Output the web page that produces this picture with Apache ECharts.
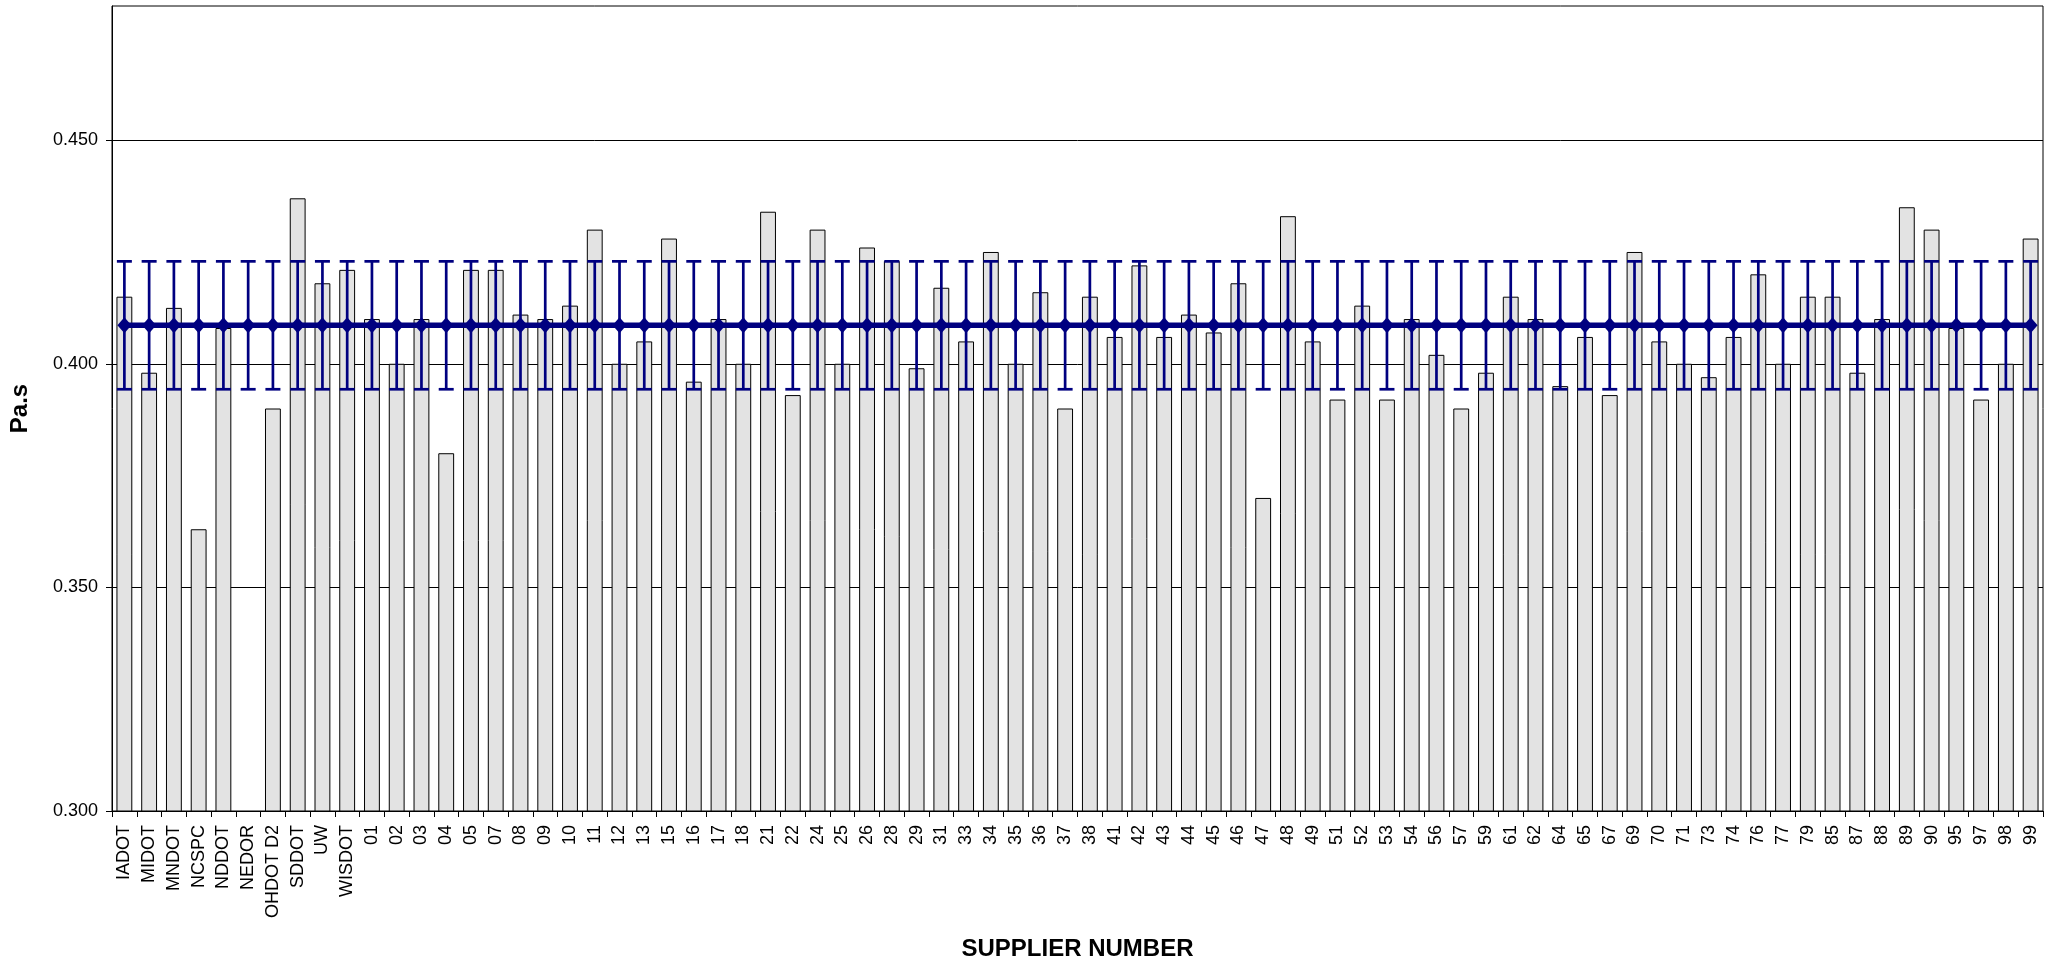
<!DOCTYPE html>
<html>
<head>
<meta charset="utf-8">
<script src="https://cdn.jsdelivr.net/npm/echarts@6/dist/echarts.min.js"></script>
<style>
html,body{margin:0;padding:0;background:#fff;}
#chart{width:2045px;height:966px;}
</style>
</head>
<body>
<div id="chart"></div>
<script>
const categories = ["IADOT","MIDOT","MNDOT","NCSPC","NDDOT","NEDOR","OHDOT D2","SDDOT","UW","WISDOT",
  "01","02","03","04","05","07","08","09","10","11","12","13","15","16","17","18","21","22","24","25","26","28",
  "29","31","33","34","35","36","37","38","41","42","43","44","45","46","47","48","49","51","52","53","54","56",
  "57","59","61","62","64","65","67","69","70","71","73","74","76","77","79","85","87","88","89","90","95","97","98","99"];

const values = [0.415,0.398,0.4125,0.363,0.408,null,0.390,0.437,0.418,0.421,
  0.410,0.400,0.410,0.380,0.421,0.421,0.411,0.410,0.413,0.430,0.400,0.405,0.428,0.396,0.410,0.400,0.434,0.393,0.430,0.400,0.426,0.423,
  0.399,0.417,0.405,0.425,0.400,0.416,0.390,0.415,0.406,0.422,0.406,0.411,0.407,0.418,0.370,0.433,0.405,0.392,0.413,0.392,0.410,0.402,
  0.390,0.398,0.415,0.410,0.395,0.406,0.393,0.425,0.405,0.400,0.397,0.406,0.420,0.400,0.415,0.415,0.398,0.410,0.435,0.430,0.408,0.392,0.400,0.428];

const meanValue = 0.4086;
const upperLimit = 0.4229;
const lowerLimit = 0.3943;

const yTicks = [0.300, 0.350, 0.400, 0.450];

const meanData = categories.map(() => meanValue);
const errorData = categories.map((c, i) => [i, lowerLimit, upperLimit]);

const FONT = "'Liberation Sans', Arial, sans-serif";
const NAVY = '#000080';

const chart = echarts.init(document.getElementById('chart'), null, {renderer: 'canvas'});
chart.setOption({
  animation: false,
  backgroundColor: '#ffffff',
  grid: {left: 105, right: 2, top: 6, bottom: 150, show: true, borderColor: '#000', borderWidth: 1, containLabel: false},
  xAxis: {
    type: 'category',
    data: categories,
    boundaryGap: true,
    name: 'SUPPLIER NUMBER',
    nameLocation: 'middle',
    nameGap: 126,
    nameTextStyle: {fontFamily: FONT, fontSize: 24, fontWeight: 'bold', color: '#000', verticalAlign: 'top'},
    axisLine: {lineStyle: {color: '#000', width: 1}},
    axisTick: {show: true, alignWithLabel: false, length: 6, lineStyle: {color: '#000'}},
    axisLabel: {interval: 0, rotate: 90, margin: 14, fontFamily: FONT, fontSize: 18, color: '#000'},
    splitLine: {show: false}
  },
  yAxis: {
    type: 'value',
    min: 0.3,
    max: 0.48,
    interval: 0.05,
    name: 'Pa.s',
    nameLocation: 'middle',
    nameGap: 80,
    nameRotate: 90,
    nameTextStyle: {fontFamily: FONT, fontSize: 24, fontWeight: 'bold', color: '#000'},
    axisLine: {show: true, lineStyle: {color: '#000', width: 1}},
    axisTick: {show: true, length: 6, lineStyle: {color: '#000'}, customValues: yTicks},
    axisLabel: {margin: 14, fontFamily: FONT, fontSize: 18, color: '#000', customValues: yTicks,
      formatter: v => v.toFixed(3)},
    splitLine: {show: true, lineStyle: {color: '#000', width: 1}}
  },
  series: [
    {
      type: 'bar',
      data: values,
      barWidth: '64%',
      itemStyle: {color: '#e3e3e3', borderColor: '#000', borderWidth: 1},
      z: 2
    },
    {
      type: 'custom',
      data: errorData,
      z: 3,
      renderItem: function (params, api) {
        const x = api.value(0);
        const lo = api.coord([x, api.value(1)]);
        const hi = api.coord([x, api.value(2)]);
        const half = 7.5;
        const style = {stroke: NAVY, lineWidth: 2.7};
        return {
          type: 'group',
          children: [
            {type: 'line', shape: {x1: hi[0], y1: hi[1], x2: lo[0], y2: lo[1]}, style: style},
            {type: 'line', shape: {x1: hi[0]-half, y1: hi[1], x2: hi[0]+half, y2: hi[1]}, style: style},
            {type: 'line', shape: {x1: lo[0]-half, y1: lo[1], x2: lo[0]+half, y2: lo[1]}, style: style}
          ]
        };
      }
    },
    {
      type: 'line',
      data: meanData,
      z: 4,
      symbol: 'diamond',
      symbolSize: [14, 16],
      showAllSymbol: true,
      lineStyle: {color: NAVY, width: 5.5},
      itemStyle: {color: NAVY, borderWidth: 0}
    }
  ]
});
</script>
</body>
</html>
